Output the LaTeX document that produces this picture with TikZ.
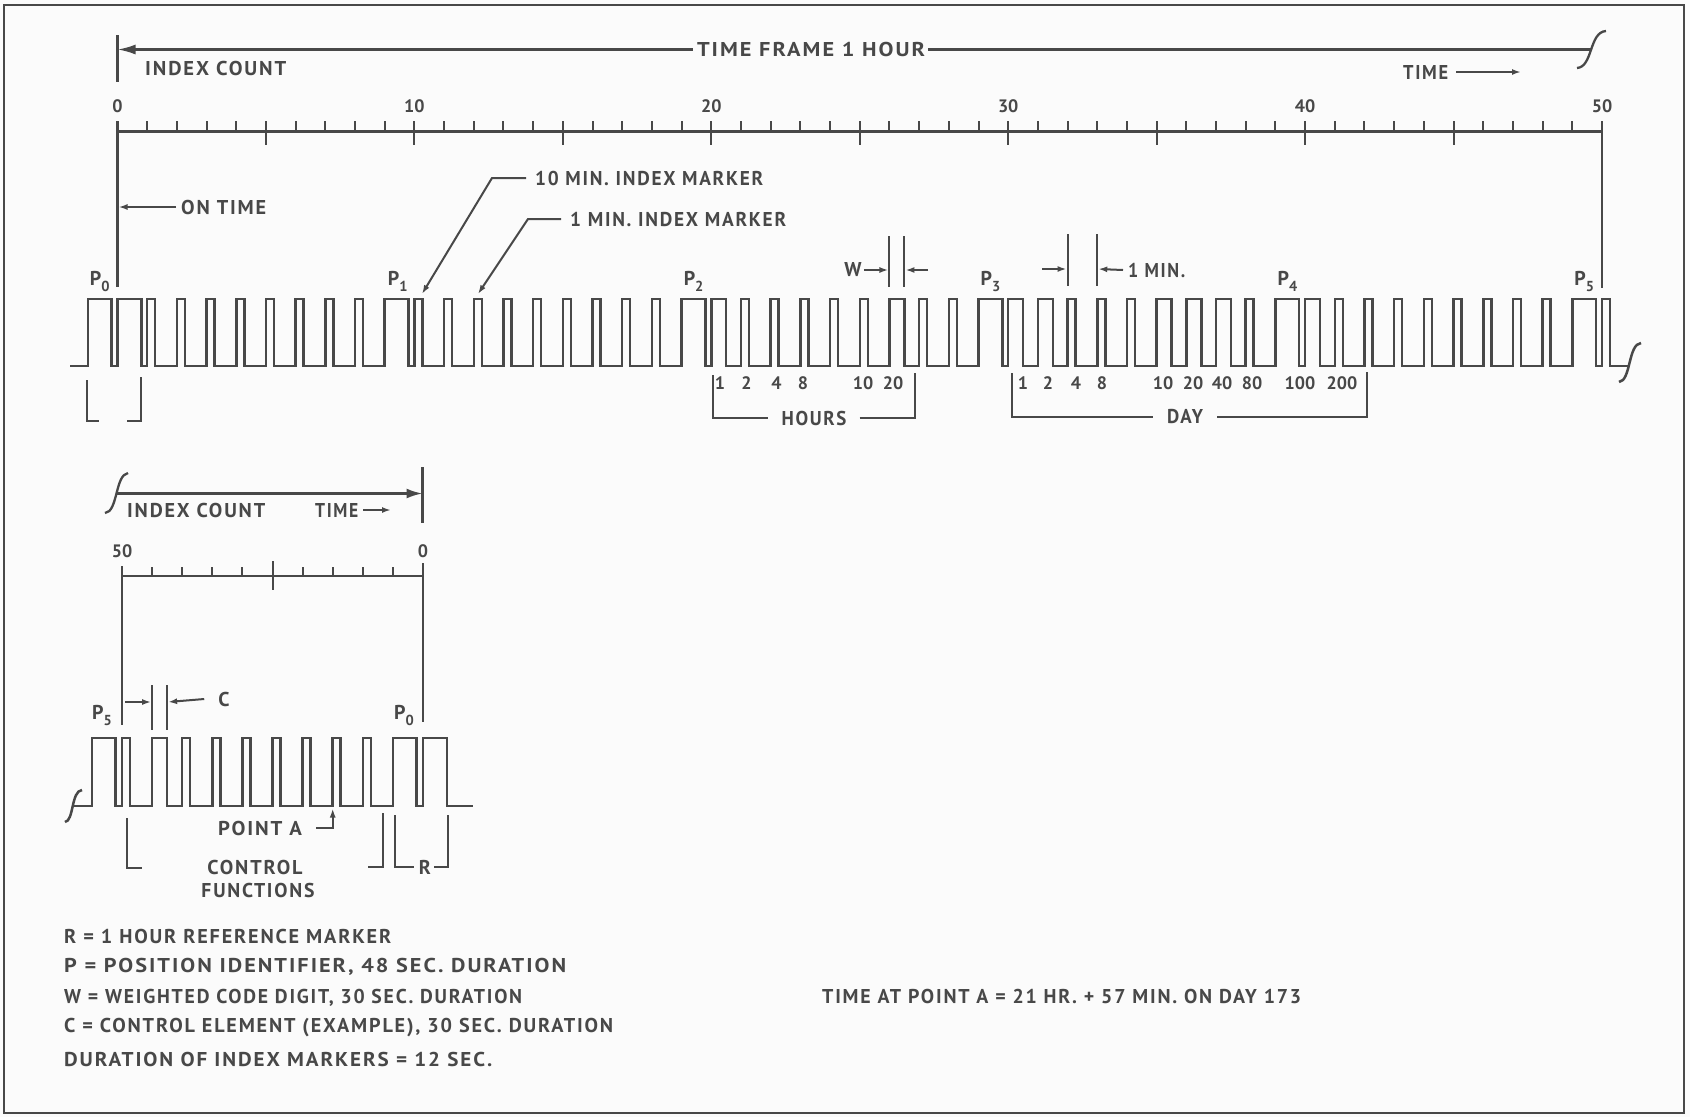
\documentclass[tikz,border=0pt]{standalone}
\usepackage{graphicx}
\usepackage{fontspec}
\setmainfont{PT Sans}[LetterSpace=9]
\usetikzlibrary{arrows.meta}
\definecolor{ink}{HTML}{484848}
\definecolor{paper}{HTML}{FBFBFB}
\newcommand\wfit[2]{\resizebox{#1pt}{\height}{#2}}
\newcommand\plab[1]{P\raisebox{-6pt}{\fontsize{14.5}{14}\selectfont #1}}
\def\tmx#1{117.5+29.69*(#1)}
\def\bmx#1{122+30.1*((#1)-50)}
\def\wavP{23.8}
\def\wavW{14.9}
\def\wavI{8}
\begin{document}
\begin{tikzpicture}[x=1pt,y=-1pt,
  wave/.style={draw=ink,line width=2.5pt,line join=miter},
  ln/.style={draw=ink,line width=2.3pt},
  lnthin/.style={draw=ink,line width=2pt},
  txt/.style={text=ink,inner sep=0pt,font=\fontsize{20}{22}\selectfont\bfseries},
  dig/.style={text=ink,inner sep=0pt,font=\fontsize{18}{20}\selectfont\bfseries\addfontfeature{LetterSpace=0}},
  bigarr/.style={-{Latex[length=18pt,width=10pt]}},
  midarr/.style={-{Latex[length=16pt,width=10pt]}},
  smarr/.style={-{Latex[length=9pt,width=6pt]}},
]
\fill[paper] (0,0) rectangle (1690,1117);
\useasboundingbox (0,0) rectangle (1690,1117);
\draw[ink,line width=2.5pt] (4,5) rectangle (1684,1113);

% ================= TOP DIAGRAM =================
\coordinate (vt0a) at (117.5,35);
\coordinate (vt0b) at (117.5,82);
\draw[ln] (vt0a) -- (vt0b);
\node[txt] (tframe) at (811,49.5) {\wfit{228}{TIME FRAME 1 HOUR}};
\coordinate (tarrow) at (117.5,49.5);
\coordinate (tbrk) at (1591,49.5);
\draw[ln,bigarr] ([xshift=-4pt]tframe.west) -- (tarrow);
\draw[ln] ([xshift=3pt]tframe.east) -- (tbrk);
\draw[ln] (1577,68) .. controls (1593,67) and (1589,32) .. (1606,31);
\node[txt,anchor=west] (icnt) at (145,68) {\wfit{141}{INDEX COUNT}};
\node[txt,anchor=west] (timeT) at (1403,72) {\wfit{45}{TIME}};
\coordinate (timeTend) at (1521,72);
\draw[lnthin,smarr] ([xshift=8pt]timeT.east) -- (timeTend);

% ruler
\coordinate (rA) at ({\tmx{0}},131.5);
\coordinate (rB) at ({\tmx{50}},131.5);
\draw[ln] (rA) -- (rB);
\foreach \m in {1,...,49} {\draw[lnthin] ({\tmx{\m}},131.5) -- ({\tmx{\m}},121);}
\foreach \m in {5,10,...,45} {\draw[lnthin] ({\tmx{\m}},121) -- ({\tmx{\m}},145);}
\foreach \m in {0,10,20,30,40,50} {\node[dig] (rl\m) at ({\tmx{\m}},106) {\m};}
\draw[ln] ({\tmx{0}},121) -- ({\tmx{0}},287);
\draw[ln] ({\tmx{50}},121) -- ({\tmx{50}},288);

% on time
\node[txt,anchor=west] (ontime) at (181,207) {\wfit{85}{ON TIME}};
\coordinate (ontip) at (118.5,207);
\draw[lnthin,smarr] ([xshift=-5pt]ontime.west) -- (ontip);

% index marker leaders
\node[txt,anchor=west] (tenmin) at (535,178) {\wfit{228}{10 MIN. INDEX MARKER}};
\coordinate (tenk) at (492,178);
\coordinate (tentip) at (422,294);
\draw[lnthin,smarr] ([xshift=-9pt]tenmin.west) -- (tenk) -- (tentip);
\node[txt,anchor=west] (onemin) at (570,219) {\wfit{216}{1 MIN. INDEX MARKER}};
\coordinate (onek) at (528,219);
\coordinate (onetip) at (478,294);
\draw[lnthin,smarr] ([xshift=-9pt]onemin.west) -- (onek) -- (onetip);

% W annotation
\coordinate (wa) at ({\tmx{26}},236);
\coordinate (wb) at ({\tmx{26}},287);
\coordinate (wc) at ({\tmx{26}+14.85},236);
\coordinate (wd) at ({\tmx{26}+14.85},287);
\draw[lnthin] (wa) -- (wb);
\draw[lnthin] (wc) -- (wd);
\node[txt] (wlab) at (853,270) {W};
\coordinate (wtipL) at ({\tmx{26}-1},270);
\coordinate (wtipR) at ({\tmx{26}+16},270);
\coordinate (wstR) at (928,270);
\draw[lnthin,smarr] ([xshift=2pt]wlab.east) -- (wtipL);
\draw[lnthin,smarr] (wstR) -- (wtipR);

% 1 MIN annotation
\coordinate (ma) at ({\tmx{32}},234);
\coordinate (mb) at ({\tmx{32}},286);
\coordinate (mc) at ({\tmx{33}},234);
\coordinate (md) at ({\tmx{33}},286);
\draw[lnthin] (ma) -- (mb);
\draw[lnthin] (mc) -- (md);
\coordinate (mstL) at (1042,269);
\coordinate (mtipL) at ({\tmx{32}-1},269);
\draw[lnthin,smarr] (mstL) -- (mtipL);
\node[txt,anchor=west] (onem2) at (1128,270) {\wfit{57}{1 MIN.}};
\coordinate (mtipR) at ({\tmx{33}+1},269);
\draw[lnthin,smarr] ([xshift=-5pt]onem2.west) -- (mtipR);

% P labels
\node[txt] (pa0) at ({\tmx{-1}+12},281) {\plab{0}};
\node[txt] (pa1) at ({\tmx{9}+13},281) {\plab{1}};
\node[txt] (pa2) at ({\tmx{19}+12},281) {\plab{2}};
\node[txt] (pa3) at ({\tmx{29}+12},281) {\plab{3}};
\node[txt] (pa4) at ({\tmx{39}+12},281) {\plab{4}};
\node[txt] (pa5) at ({\tmx{49}+12},281) {\plab{5}};

% waveform
\draw[wave] (70,366)
  \foreach \m/\w in {-1/\wavP,0/\wavP,1/\wavI,2/\wavI,3/\wavI,4/\wavI,5/\wavI,6/\wavI,7/\wavI,8/\wavI,
   9/\wavP,10/\wavI,11/\wavI,12/\wavI,13/\wavI,14/\wavI,15/\wavI,16/\wavI,17/\wavI,18/\wavI,
   19/\wavP,20/\wavW,21/\wavI,22/\wavI,23/\wavI,24/\wavI,25/\wavI,26/\wavW,27/\wavI,28/\wavI,
   29/\wavP,30/\wavW,31/\wavW,32/\wavI,33/\wavI,34/\wavI,35/\wavW,36/\wavW,37/\wavW,38/\wavI,
   39/\wavP,40/\wavW,41/\wavI,42/\wavI,43/\wavI,44/\wavI,45/\wavI,46/\wavI,47/\wavI,48/\wavI,
   49/\wavP,50/\wavI}
  { -- ({\tmx{\m}},366) -- ({\tmx{\m}},299) -- ({\tmx{\m}+\w},299) -- ({\tmx{\m}+\w},366) }
  -- (1630,366);
\draw[wave] (1619,382) .. controls (1631,381) and (1628,344) .. (1641,343);

% brackets top
\draw[lnthin] (87,380) -- (87,421) -- (99,421);
\draw[lnthin] (127,421) -- (141,421) -- (141,377);
\node[txt] (hours) at (814,418) {\wfit{65}{HOURS}};
\coordinate (hl1) at (713,375);
\coordinate (hl2) at (713,418);
\coordinate (hr1) at (915,373);
\coordinate (hr2) at (915,418);
\draw[lnthin] (hl1) -- (hl2) -- ([xshift=-13pt]hours.west);
\draw[lnthin] ([xshift=13pt]hours.east) -- (hr2) -- (hr1);
\node[txt] (day) at (1185,417) {\wfit{36}{DAY}};
\coordinate (dl1) at (1012,373);
\coordinate (dl2) at (1012,417);
\coordinate (dr1) at (1367,372);
\coordinate (dr2) at (1367,417);
\draw[lnthin] (dl1) -- (dl2) -- ([xshift=-14pt]day.west);
\draw[lnthin] ([xshift=14pt]day.east) -- (dr2) -- (dr1);
\foreach \l/\x [count=\i] in {1/720,2/746.5,4/776.5,8/803,10/863,20/893}
  {\node[dig] (hb\i) at (\x,383) {\l};}
\foreach \l/\x [count=\i] in {1/1023,2/1048,4/1076,8/1102,10/1163,20/1193,40/1222,80/1252,100/1300,200/1342}
  {\node[dig] (db\i) at (\x,383) {\l};}

% ================= LOWER DIAGRAM =================
\draw[ln] (105,513) .. controls (118,512) and (115,475) .. (128,473);
\coordinate (lbrk) at (116.5,493.5);
\coordinate (larrow) at (422.5,493.5);
\draw[ln,midarr] (lbrk) -- (larrow);
\draw[ln] (422.5,467) -- (422.5,523);
\node[txt,anchor=west] (icnt2) at (127,510) {\wfit{138}{INDEX COUNT}};
\node[txt,anchor=west] (time2) at (315,510) {\wfit{43}{TIME}};
\coordinate (time2end) at (391,510);
\draw[lnthin,smarr] ([xshift=5pt]time2.east) -- (time2end);

% lower ruler
\node[dig] (l50) at ({\bmx{50}},551) {50};
\node[dig] (l0) at ({\bmx{60}},551) {0};
\draw[ln] ({\bmx{50}},576) -- ({\bmx{60}},576);
\foreach \m in {51,52,53,54,56,57,58,59} {\draw[lnthin] ({\bmx{\m}},576) -- ({\bmx{\m}},567);}
\draw[lnthin] ({\bmx{55}},561) -- ({\bmx{55}},590);
\draw[ln] ({\bmx{50}},566) -- ({\bmx{50}},725);
\draw[ln] ({\bmx{60}},563) -- ({\bmx{60}},722);

% C annotation
\draw[lnthin] ({\bmx{51}},685) -- ({\bmx{51}},730);
\draw[lnthin] ({\bmx{51}+14.9},685) -- ({\bmx{51}+14.9},730);
\coordinate (cstL) at ({\bmx{50}+3},702);
\coordinate (ctipL) at ({\bmx{51}-1},702);
\draw[lnthin,smarr] (cstL) -- (ctipL);
\node[txt] (clab) at (224,699) {C};
\coordinate (ctipR) at ({\bmx{51}+16},702);
\draw[lnthin,smarr] ([xshift=-14pt]clab.west) -- (ctipR);

% P labels lower
\node[txt] (pb5) at ({\bmx{49}+10},715) {\plab{5}};
\node[txt] (pb0) at ({\bmx{59}+11},715) {\plab{0}};

% lower waveform
\draw[wave] (65,822) .. controls (74,821) and (71,791) .. (82,790);
\draw[wave] (73,806)
  \foreach \m/\w in {49/\wavP,50/\wavI,51/\wavW,52/\wavI,53/\wavI,54/\wavI,55/\wavI,56/\wavI,57/\wavI,58/\wavI,59/\wavP,60/\wavP}
  { -- ({\bmx{\m}},806) -- ({\bmx{\m}},738) -- ({\bmx{\m}+\w},738) -- ({\bmx{\m}+\w},806) }
  -- (473,806);

% point A
\node[txt] (pointa) at (260,828) {\wfit{84}{POINT A}};
\coordinate (pak) at ({\bmx{57}},828);
\coordinate (patip) at ({\bmx{57}},808.5);
\draw[lnthin,smarr] ([xshift=14pt]pointa.east) -- (pak) -- (patip);

% control functions bracket
\draw[lnthin] (127,818) -- (127,868) -- (142,868);
\draw[lnthin] (368,867) -- (383,867) -- (383,813);
\node[txt] (ctrl) at (255,867) {\wfit{95}{CONTROL}};
\node[txt] (func) at (258,890) {\wfit{113}{FUNCTIONS}};

% R bracket
\node[txt] (rlab) at (425,867) {R};
\draw[lnthin] (395,815) -- (395,867) -- ([xshift=-5pt]rlab.west);
\draw[lnthin] ([xshift=3pt]rlab.east) -- (448,867) -- (448,815);

% ================= LEGEND =================
\node[txt,anchor=west] (lg1) at (64,936) {\wfit{327}{R = 1 HOUR REFERENCE MARKER}};
\node[txt,anchor=west] (lg2) at (64,967) {\wfit{502}{P = POSITION IDENTIFIER, 48 SEC. DURATION}};
\node[txt,anchor=west] (lg3) at (64,998) {\wfit{458}{W = WEIGHTED CODE DIGIT, 30 SEC. DURATION}};
\node[txt,anchor=west] (lg4) at (64,1028) {\wfit{549}{C = CONTROL ELEMENT (EXAMPLE), 30 SEC. DURATION}};
\node[txt,anchor=west] (lg5) at (64,1059) {\wfit{428}{DURATION OF INDEX MARKERS = 12 SEC.}};
\node[txt,anchor=west] (pta) at (822,996) {\wfit{479}{TIME AT POINT A = 21 HR. + 57 MIN. ON DAY 173}};
\end{tikzpicture}
\end{document}
